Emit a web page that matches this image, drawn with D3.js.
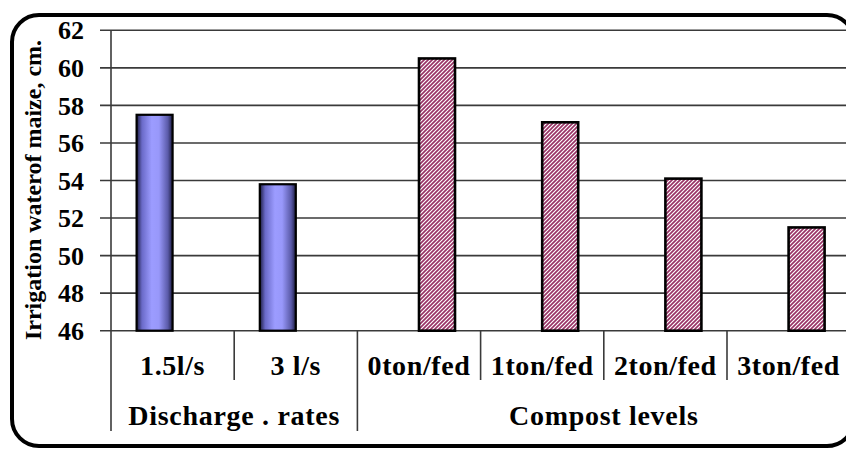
<!DOCTYPE html>
<html>
<head>
<meta charset="utf-8">
<script src="https://cdn.jsdelivr.net/npm/d3@7/dist/d3.min.js"></script>
<style>
  html, body { margin: 0; padding: 0; background: #fff; }
  svg { display: block; }
  text { font-family: "Liberation Serif", "Times New Roman", serif; font-weight: bold; fill: #000; }
</style>
</head>
<body>
<svg id="chart" width="846" height="449"></svg>
<script>
// Irrigation water of maize (cm) by discharge rate and compost level
const categories = ["1.5l/s", "3 l/s", "0ton/fed", "1ton/fed", "2ton/fed", "3ton/fed"];
const seriesNames = ["Discharge", "Compost"];
const dischargeValues = [57.5, 53.8, null, null, null, null];
const compostValues = [null, null, 60.5, 57.1, 54.1, 51.5];
const groupLabels = ["Discharge . rates", "Compost levels"];
const groupSpans = [[0, 1], [2, 5]];
const yTicks = [46, 48, 50, 52, 54, 56, 58, 60, 62];
const yTitle = "Irrigation waterof maize, cm.";

const svg = d3.select("#chart");
const defs = svg.append("defs");

// Shaded cylinder look for the discharge bars
const grad = defs.append("linearGradient").attr("id", "blueBar")
  .attr("x1", "0%").attr("x2", "100%").attr("y1", "0%").attr("y2", "0%");
[["0%", "#1c1c40"], ["15%", "#6a6ac8"], ["42%", "#9c9cff"], ["62%", "#9898fa"], ["87%", "#5a5aa8"], ["100%", "#1c1c40"]]
  .forEach(([o, c]) => grad.append("stop").attr("offset", o).attr("stop-color", c));

// Diagonal hatch for the compost bars
const pat = defs.append("pattern").attr("id", "hatch")
  .attr("patternUnits", "userSpaceOnUse").attr("width", 4).attr("height", 4);
pat.append("rect").attr("width", 4).attr("height", 4).attr("fill", "#fff");
pat.append("path").attr("d", "M-1,1 L1,-1 M0,4 L4,0 M3,5 L5,3")
  .attr("stroke", "#993366").attr("stroke-width", 1.7);

const plot = { left: 111, right: 850.2, top: 30.3, bottom: 330.7 };

const y = d3.scaleLinear().domain([46, 62]).range([plot.bottom, plot.top]);
const x = d3.scaleBand().domain(categories).range([plot.left, plot.right]).padding(0);
const xs = d3.scaleBand().domain(seriesNames).range([0, x.bandwidth()])
  .paddingInner(0).paddingOuter(0.711);

// Rounded frame around the chart
svg.append("rect")
  .attr("x", 12).attr("y", 15).attr("width", 842).attr("height", 431)
  .attr("rx", 27).attr("ry", 27)
  .attr("fill", "none").attr("stroke", "#000").attr("stroke-width", 4);

// Horizontal gridlines with tick marks
svg.append("g").attr("class", "grid")
  .selectAll("line").data(yTicks).join("line")
  .attr("x1", plot.left - 11).attr("x2", 846)
  .attr("y1", d => y(d)).attr("y2", d => y(d))
  .attr("stroke", "#3a3a3a").attr("stroke-width", 1.6);

// Y tick labels
svg.append("g").selectAll("text").data(yTicks).join("text")
  .attr("x", 84).attr("y", d => y(d)).attr("dy", "0.35em")
  .attr("text-anchor", "end").attr("font-size", 26)
  .text(d => d);

// Y axis line, extending down through the category rows
svg.append("line")
  .attr("x1", plot.left).attr("x2", plot.left)
  .attr("y1", plot.top).attr("y2", 431)
  .attr("stroke", "#3a3a3a").attr("stroke-width", 1.6);

// Y title
svg.append("text")
  .attr("transform", `translate(41,190) rotate(-90)`)
  .attr("text-anchor", "middle").attr("font-size", 24)
  .text(yTitle);

// Bars
const bars = svg.append("g");
bars.selectAll("rect.d").data(categories.map((c, i) => ({ c, v: dischargeValues[i] })).filter(d => d.v != null))
  .join("rect").attr("class", "d")
  .attr("x", d => x(d.c) + xs("Discharge"))
  .attr("width", xs.bandwidth())
  .attr("y", d => y(d.v))
  .attr("height", d => y(46) - y(d.v))
  .attr("fill", "url(#blueBar)").attr("stroke", "#000").attr("stroke-width", 2.2);
bars.selectAll("rect.c").data(categories.map((c, i) => ({ c, v: compostValues[i] })).filter(d => d.v != null))
  .join("rect").attr("class", "c")
  .attr("x", d => x(d.c) + xs("Compost"))
  .attr("width", xs.bandwidth())
  .attr("y", d => y(d.v))
  .attr("height", d => y(46) - y(d.v))
  .attr("fill", "url(#hatch)").attr("stroke", "#000").attr("stroke-width", 2.6);

// Category dividers and labels
const catBottom = 380, groupBottom = 431;
svg.append("g").selectAll("line").data(categories.slice(1)).join("line")
  .attr("x1", d => x(d)).attr("x2", d => x(d))
  .attr("y1", plot.bottom).attr("y2", (d, i) => groupSpans.some(s => s[0] === i + 1) ? groupBottom : catBottom)
  .attr("stroke", "#3a3a3a").attr("stroke-width", 1.6);

svg.append("g").selectAll("text").data(categories).join("text")
  .attr("x", d => x(d) + x.bandwidth() / 2).attr("y", 365).attr("dy", "0.35em")
  .attr("text-anchor", "middle").attr("font-size", 28).attr("letter-spacing", 0.6)
  .text(d => d);

// Group labels
svg.append("g").selectAll("text").data(groupLabels).join("text")
  .attr("x", (d, i) => (x(categories[groupSpans[i][0]]) + x(categories[groupSpans[i][1]]) + x.bandwidth()) / 2)
  .attr("y", 415).attr("dy", "0.35em")
  .attr("text-anchor", "middle").attr("font-size", 28).attr("letter-spacing", 0.7)
  .text(d => d);
</script>
</body>
</html>
